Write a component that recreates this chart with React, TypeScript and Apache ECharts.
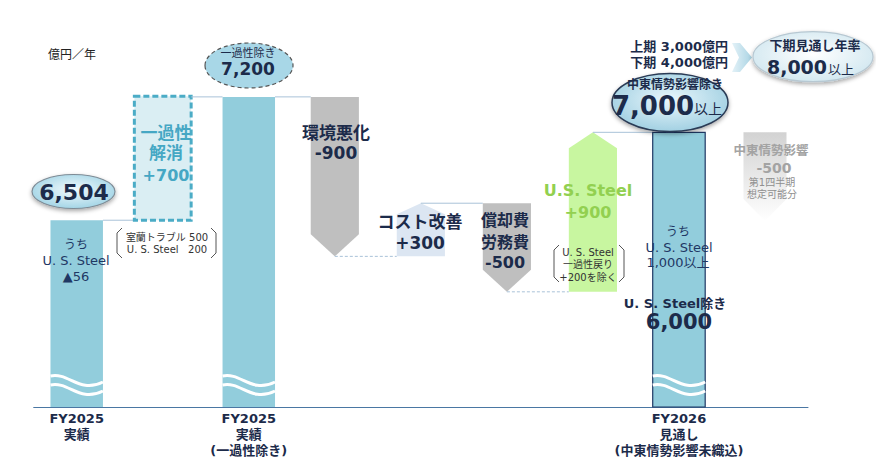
import React, { useEffect, useRef } from 'react';
import * as echarts from 'echarts';

// ---- data ----
const categories = ['FY2025実績', '一過性解消', 'FY2025実績(一過性除き)', '環境悪化', 'コスト改善', '償却費・労務費', 'U.S. Steel', 'FY2026見通し', '中東情勢影響'];
const values = [6504, 700, 7200, -900, 300, -500, 900, 7000, -500];
const isTotal = [true, false, true, false, false, false, false, true, false];
const tickLabels = ['FY2025\n実績', '', 'FY2025\n実績\n(一過性除き)', '', '', '', '', 'FY2026\n見通し\n(中東情勢影響未織込)', ''];

const AXIS_MIN = 5450;
const AXIS_MAX = 7600;

const NAVY = '#1c2b4a';
const F = '"DejaVu Sans", "Noto Sans CJK JP", sans-serif';

// build waterfall levels
const startLevel: number[] = [];
const seriesData: number[][] = [];
{
  let run = 0;
  values.forEach((v, i) => {
    if (isTotal[i]) {
      startLevel.push(v);
      seriesData.push([i, 0, v]);
      run = v;
    } else {
      startLevel.push(run);
      const e = run + v;
      seriesData.push([i, Math.min(run, e), Math.max(run, e)]);
      run = e;
    }
  });
}

const ratio = (i: number) => (isTotal[i] ? 0.61 : i === 1 ? 0.66 : i === 8 ? 0.5 : 0.56);

const renderItem = (params: any, api: any) => {
  const i = api.value(0);
  const lo = Math.max(api.value(1), AXIS_MIN);
  const hi = api.value(2);
  const band = api.size([1, 0])[0];
  const [cx, yHi] = api.coord([i, hi]);
  const yLo = api.coord([i, lo])[1];
  const w = band * ratio(i);
  const xl = cx - w / 2;
  const xr = cx + w / 2;
  const children: any[] = [];

  if (i > 0 && i < values.length - 1) {
    const pi = i - 1;
    const pcx = api.coord([pi, startLevel[i]])[0];
    const prevIsRect = isTotal[pi] || pi === 1;
    const x1 = prevIsRect ? pcx + (band * ratio(pi)) / 2 : pcx;
    const y = api.coord([i, startLevel[i]])[1];
    const dashed = !isTotal[pi] && values[pi] < 0;
    children.push({
      type: 'line',
      shape: { x1, y1: y, x2: xl, y2: y },
      style: { stroke: '#a9c2d8', lineWidth: 1, lineDash: dashed ? [3, 2] : null },
    });
  }

  if (isTotal[i]) {
    children.push({
      type: 'rect',
      shape: { x: xl, y: yHi, width: w, height: yLo - yHi },
      style: { fill: '#92cddc', stroke: i === 7 ? '#1f3864' : null, lineWidth: i === 7 ? 1.2 : 0 },
    });
    [0, 9].forEach((off) => {
      const y0 = yLo - 31 + off;
      children.push({
        type: 'bezierCurve',
        shape: { x1: xl, y1: y0, cpx1: xl + 0.35 * w, cpy1: y0 - 4, cpx2: xl + 0.55 * w, cpy2: y0 + 18, x2: xr, y2: y0 + 6 },
        style: { stroke: '#ffffff', lineWidth: 3, fill: null },
      });
    });
  } else if (i === 1) {
    children.push({
      type: 'rect',
      shape: { x: xl, y: yHi, width: w, height: yLo - yHi },
      style: { fill: '#daeef3', stroke: '#4bacc6', lineWidth: 3, lineDash: [6, 3] },
    });
  } else if (values[i] < 0) {
    const h = 22;
    const fill =
      i === 8
        ? new echarts.graphic.LinearGradient(0, 0, 0, 1, [
            { offset: 0, color: '#d2d2d2' },
            { offset: 1, color: '#ffffff' },
          ])
        : '#bfbfbf';
    children.push({
      type: 'polygon',
      shape: { points: [[xl, yHi], [xr, yHi], [xr, yLo - h], [cx, yLo], [xl, yLo - h]] },
      style: { fill },
    });
  } else {
    const h = i === 6 ? 16 : 11;
    children.push({
      type: 'polygon',
      shape: { points: [[xl, yLo], [xr, yLo], [xr, yHi + h], [cx, yHi], [xl, yHi + h]] },
      style: { fill: i === 6 ? '#c8f6a0' : '#dce6f2' },
    });
  }
  return { type: 'group', children };
};

function T(text: string, x: number, y: number, size: number, o: any = {}) {
  return {
    type: 'text',
    x,
    y,
    z: 20,
    silent: true,
    style: {
      text,
      fill: o.color || NAVY,
      fontSize: size,
      fontWeight: o.bold ? 'bold' : 'normal',
      fontFamily: F,
      textAlign: o.align || 'center',
      verticalAlign: 'middle',
      lineHeight: o.lh,
    },
  };
}

const balloon = (cx: number, cy: number, rx: number, ry: number, c0: string, c1: string, stroke: string, extra: any = {}) => ({
  type: 'ellipse',
  z: 15,
  shape: { cx, cy, rx, ry },
  style: {
    fill: new echarts.graphic.RadialGradient(0.5, 0.45, 0.6, [
      { offset: 0, color: c0 },
      { offset: 1, color: c1 },
    ]),
    stroke,
    lineWidth: 1.2,
    shadowBlur: 4,
    shadowOffsetY: 2,
    shadowColor: 'rgba(0,0,0,0.35)',
    ...extra,
  },
});

const bracket = (x: number, top: number, bot: number, left: boolean) => {
  const d = left ? 5 : -5;
  return {
    type: 'polyline',
    z: 20,
    shape: { points: [[x + d, top], [x, top + 5], [x, bot - 5], [x + d, bot]] },
    style: { stroke: '#555', lineWidth: 1, fill: null },
  };
};

const graphics: any[] = [
  T('億円／年', 48, 55, 12, { align: 'left', color: '#222' }),
  // 6,504 balloon
  balloon(73.5, 191.5, 41.5, 17, '#f2fafd', '#9dd2e4', '#7f8c96'),
  T('6,504', 74, 192, 22, { bold: true }),
  // 7,200 balloon
  {
    type: 'ellipse',
    z: 15,
    shape: { cx: 249, cy: 65.5, rx: 44, ry: 22.5 },
    style: { fill: '#a8d7e7', stroke: '#555', lineWidth: 1.2, lineDash: [4, 3] },
  },
  T('一過性除き', 248, 53, 11),
  T('7,200', 248, 69, 17, { bold: true }),
  // one-off
  T('一過性', 166, 133, 17, { bold: true, color: '#45a7c4' }),
  T('解消', 166, 153, 17, { bold: true, color: '#45a7c4' }),
  T('+700', 166, 175, 16, { bold: true, color: '#45a7c4' }),
  // note 1
  T('室蘭トラブル 500', 167, 237, 10, { color: '#333' }),
  T('U. S. Steel   200', 167, 249, 10, { color: '#333' }),
  bracket(117, 228, 258, true),
  bracket(216, 228, 258, false),
  // bar1 inner
  T('うち', 76, 245, 12, { color: '#1f3864' }),
  T('U. S. Steel', 76, 260, 13, { color: '#1f3864' }),
  T('▲56', 76, 276, 13, { color: '#1f3864' }),
  // deltas
  T('環境悪化', 336, 133, 17, { bold: true }),
  T('-900', 336, 153, 17, { bold: true }),
  T('コスト改善', 420, 222, 17, { bold: true }),
  T('+300', 420, 243, 17, { bold: true }),
  T('償却費', 505, 220, 16, { bold: true }),
  T('労務費', 505, 242, 16, { bold: true }),
  T('-500', 505, 262, 16, { bold: true }),
  T('U.S. Steel', 588, 190, 16, { bold: true, color: '#92d050' }),
  T('+900', 588, 212, 16, { bold: true, color: '#92d050' }),
  // note 2
  T('U. S. Steel', 588, 252, 10, { color: '#333' }),
  T('一過性戻り', 588, 264, 10, { color: '#333' }),
  T('+200を除く', 588, 277, 10, { color: '#333' }),
  bracket(554, 245, 282, true),
  bracket(624, 245, 282, false),
  // FY2026 bar inner
  T('うち', 678, 232, 12, { color: '#1f3864' }),
  T('U. S. Steel', 679, 247, 13, { color: '#1f3864' }),
  T('1,000以上', 678, 262, 13, { color: '#1f3864' }),
  T('U. S. Steel除き', 675, 303, 13, { bold: true }),
  T('6,000', 679, 322, 21, { bold: true }),
  // 7,000 balloon
  balloon(670, 102.5, 58, 29, '#eaf7fc', '#9ccde0', '#2a3b55', { lineWidth: 1.5 }),
  T('中東情勢影響除き', 675, 85, 12, { bold: true }),
  T('7,000', 653, 106, 26, { bold: true }),
  T('以上', 694, 109, 14, { align: 'left' }),
  // half-year text
  T('上期 3,000億円', 728, 46, 13, { bold: true, align: 'right' }),
  T('下期 4,000億円', 728, 62, 13, { bold: true, align: 'right' }),
  {
    type: 'polygon',
    z: 15,
    shape: { points: [[732, 43], [740, 43], [752, 57.5], [740, 72], [732, 72], [739, 57.5]] },
    style: {
      fill: new echarts.graphic.LinearGradient(0, 0, 1, 0, [
        { offset: 0, color: '#e4f2f8' },
        { offset: 1, color: '#a9d3e3' },
      ]),
    },
  },
  // 8,000 balloon
  balloon(813, 56.7, 60, 25, '#ffffff', '#cfe6ef', '#b7c8d2'),
  T('下期見通し年率', 815, 45, 13, { bold: true }),
  T('8,000', 797, 67, 19, { bold: true }),
  T('以上', 828, 69, 13, { align: 'left' }),
  // middle-east
  T('中東情勢影響', 771, 150, 12.5, { bold: true, color: '#a3a3a3' }),
  T('-500', 774, 168, 14, { bold: true, color: '#a3a3a3' }),
  T('第1四半期', 772, 182, 10, { color: '#8f8f8f' }),
  T('想定可能分', 772, 194, 10, { color: '#8f8f8f' }),
];

const option: any = {
  animation: false,
  grid: { left: 33.7, right: 68, top: 26, bottom: 61 },
  xAxis: {
    type: 'category',
    data: categories,
    axisTick: { show: false },
    axisLine: { lineStyle: { color: '#4a77a3', width: 1 } },
    axisLabel: {
      interval: 0,
      margin: 3,
      formatter: (_v: string, idx: number) => tickLabels[idx],
      color: NAVY,
      fontWeight: 'bold',
      fontSize: 13,
      lineHeight: 16,
      fontFamily: F,
    },
  },
  yAxis: {
    type: 'value',
    min: AXIS_MIN,
    max: AXIS_MAX,
    show: false,
    splitLine: { show: false },
  },
  series: [
    {
      type: 'custom',
      renderItem,
      clip: false,
      encode: { x: 0, y: [1, 2] },
      data: seriesData,
    },
  ],
  graphic: graphics,
};

export default function App() {
  const ref = useRef<HTMLDivElement>(null);
  useEffect(() => {
    const chart = echarts.init(ref.current!, null, { renderer: 'svg' });
    chart.setOption(option);
    return () => chart.dispose();
  }, []);
  return <div ref={ref} style={{ position: 'absolute', left: 0, top: 0, width: 876, height: 468 }} />;
}
